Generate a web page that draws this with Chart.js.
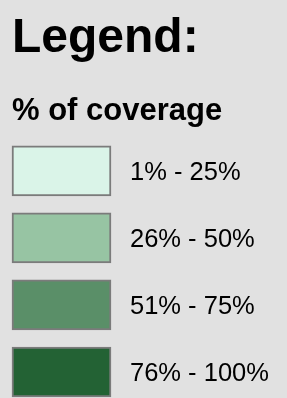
<!DOCTYPE html>
<html>
<head>
<meta charset="utf-8">
<script src="https://cdn.jsdelivr.net/npm/chart.js@4/dist/chart.umd.min.js"></script>
<style>
  html, body { margin: 0; padding: 0; background: #e1e1e1; }
  #wrap { width: 287px; height: 398px; }
</style>
</head>
<body>
<div id="wrap"><canvas id="c" width="287" height="398"></canvas></div>
<script>
// ---- data ----
const titleText = 'Legend:';
const subtitleText = '% of coverage';
const categories = ['1% - 25%', '26% - 50%', '51% - 75%', '76% - 100%'];
const swatchValues = [1, 1, 1, 1];               // every swatch spans the full key width
const swatchColors = ['#daf4e8', '#97c4a3', '#5a8f68', '#236234'];

const FONT = '"Liberation Sans", Arial, Helvetica, sans-serif';

new Chart(document.getElementById('c'), {
  type: 'bar',
  data: {
    labels: categories,
    datasets: [{
      data: swatchValues,
      backgroundColor: swatchColors,
      borderColor: '#7b7b7b',
      borderWidth: 2,
      borderSkipped: false,
      barThickness: 50,
      clip: false
    }]
  },
  options: {
    indexAxis: 'y',
    responsive: false,
    animation: false,
    events: [],
    layout: { padding: { left: 12, right: 0, top: 0, bottom: 26 } },
    plugins: {
      legend: { display: false },
      tooltip: { enabled: false },
      title: {
        display: true,
        text: titleText,
        align: 'start',
        color: '#000',
        font: { family: FONT, size: 48, weight: 'bold', lineHeight: 1.2 },
        padding: { top: 10, bottom: 0 }
      },
      subtitle: {
        display: true,
        text: subtitleText,
        align: 'start',
        color: '#000',
        font: { family: FONT, size: 31, weight: 'bold', lineHeight: 1.2 },
        padding: { top: 25, bottom: 41 }
      }
    },
    scales: {
      x: { display: false, min: 0, max: 1 },
      y: {
        position: 'right',
        offset: false,
        grid: { display: false, drawTicks: true, tickLength: 19 },
        border: { display: false },
        ticks: {
          color: '#000',
          padding: 0,
          labelOffset: 2,
          font: { family: FONT, size: 25.5 }
        },
        afterFit: (scale) => { scale.width = 176; }
      }
    }
  }
});
</script>
</body>
</html>
